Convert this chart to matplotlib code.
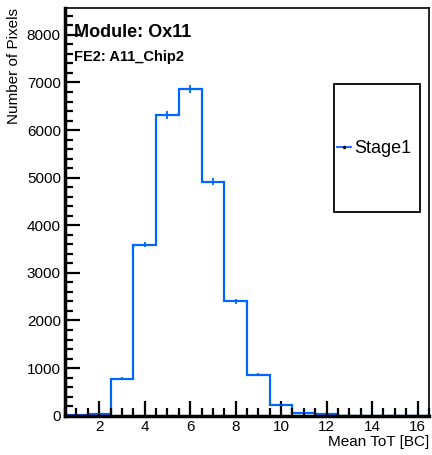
import numpy as np
import matplotlib
matplotlib.use("Agg")
import matplotlib.pyplot as plt
from matplotlib.ticker import MultipleLocator
from matplotlib.patches import Rectangle

plt.rcParams['font.family'] = ['Liberation Sans', 'DejaVu Sans']

# histogram data: Mean ToT bins (width 1, centred on integers)
bin_centers = [1, 2, 3, 4, 5, 6, 7, 8, 9, 10, 11, 12, 13, 14, 15, 16]
counts = [10, 40, 775, 3595, 6320, 6860, 4915, 2400, 860, 225, 65, 35, 0, 0, 0, 0]
series_label = "Stage1"
color = "#0066ff"

centers = np.array(bin_centers, dtype=float)
vals = np.array(counts, dtype=float)
edges = np.append(centers - 0.5, centers[-1] + 0.5)

fig = plt.figure(figsize=(4.32, 4.55), dpi=100)
ax = fig.add_axes([0.1505, 0.0864, 0.8425, 0.8971])

ax.stairs(vals, edges, color=color, lw=1.6, label=None)
err = np.sqrt(vals)
mask = vals > 0
ax.errorbar(centers[mask], vals[mask], yerr=err[mask], xerr=0.0, fmt='none',
            ecolor=color, elinewidth=1.3)
# legend proxy: line with tiny marker
ax.plot([], [], color=color, lw=1.3, marker='o', markersize=1.5,
        markerfacecolor='black', markeredgecolor='black', label=series_label)

ax.set_xlim(0.5, 16.5)
ax.set_ylim(0, 8575)

ax.xaxis.set_major_locator(MultipleLocator(2))
ax.xaxis.set_minor_locator(MultipleLocator(0.5))
ax.yaxis.set_major_locator(MultipleLocator(1000))
ax.yaxis.set_minor_locator(MultipleLocator(200))
ax.tick_params(axis='both', which='both', direction='in', top=False, right=False,
               labelsize=11, width=1.6, pad=3)
ax.tick_params(axis='both', which='major', length=11)
ax.tick_params(axis='both', which='minor', length=5.5)

for s in ['left', 'bottom']:
    ax.spines[s].set_linewidth(2.5)
for s in ['top', 'right']:
    ax.spines[s].set_linewidth(1.2)

ax.set_xlabel("Mean ToT [BC]", fontsize=11, loc='right', labelpad=1)
ax.set_ylabel("Number of Pixels", fontsize=11, loc='top', labelpad=4)

ax.text(0.025, 0.96, "Module: Ox11", transform=ax.transAxes, fontsize=13,
        fontweight='bold', va='top', ha='left')
ax.text(0.025, 0.897, "FE2: A11_Chip2", transform=ax.transAxes, fontsize=10.5,
        fontweight='bold', va='top', ha='left')

# legend box (ROOT style, tall frame)
ax.add_patch(Rectangle((0.739, 0.499), 0.236, 0.3135, transform=ax.transAxes,
                       fill=False, edgecolor='black', lw=1.3, zorder=5))
leg = ax.legend(loc='center left', bbox_to_anchor=(0.748, 0.655),
                fontsize=13, frameon=False,
                handlelength=0.75, handletextpad=0.2, borderaxespad=0,
                borderpad=0.0)

fig.savefig("out.png", dpi=100)
